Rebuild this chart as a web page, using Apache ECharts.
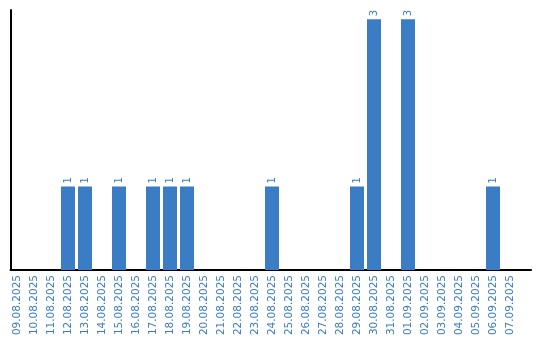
<!DOCTYPE html>
<html><head><meta charset="utf-8">
<script src="https://cdn.jsdelivr.net/npm/echarts@6/dist/echarts.min.js"></script>
<style>html,body{margin:0;padding:0;background:#fff}#c{width:540px;height:340px}</style>
</head><body><div id="c"></div>
<script>
const categories = ["09.08.2025","10.08.2025","11.08.2025","12.08.2025","13.08.2025","14.08.2025","15.08.2025","16.08.2025","17.08.2025","18.08.2025","19.08.2025","20.08.2025","21.08.2025","22.08.2025","23.08.2025","24.08.2025","25.08.2025","26.08.2025","27.08.2025","28.08.2025","29.08.2025","30.08.2025","31.08.2025","01.09.2025","02.09.2025","03.09.2025","04.09.2025","05.09.2025","06.09.2025","07.09.2025"];
const values = [0,0,0,1,1,0,1,0,1,1,1,0,0,0,0,1,0,0,0,0,1,3,0,3,0,0,0,0,1,0];
const blue = '#3b7dc4';
const chart = echarts.init(document.getElementById('c'));
chart.setOption({
  animation:false,
  grid:[
    {left:8.5,right:21.5,top:10,bottom:70,containLabel:false},
    {left:10.5,right:9,top:10,bottom:70,containLabel:false}
  ],
  xAxis:[
    {type:'category',data:categories,gridIndex:0,
      axisLine:{show:false},axisTick:{show:false},
      axisLabel:{rotate:90,interval:0,color:blue,fontFamily:'DejaVu Sans',fontSize:10.5,margin:5}},
    {type:'value',gridIndex:1,min:0,max:1,
      axisLine:{show:true,lineStyle:{color:'#000',width:2}},
      axisTick:{show:false},axisLabel:{show:false},splitLine:{show:false}}
  ],
  yAxis:[
    {type:'value',gridIndex:0,min:0,max:3.11,show:false,splitLine:{show:false}},
    {type:'value',gridIndex:1,min:0,max:1,
      axisLine:{show:true,lineStyle:{color:'#000',width:2}},
      axisTick:{show:false},axisLabel:{show:false},splitLine:{show:false}}
  ],
  series:[{type:'bar',xAxisIndex:0,yAxisIndex:0,data:values.map(v=>v===0?null:v),barWidth:14,
    itemStyle:{color:blue},
    label:{show:true,position:'top',rotate:90,color:blue,fontFamily:'DejaVu Sans',fontSize:10,distance:3,align:'left',verticalAlign:'middle'}}]
});
</script></body></html>
